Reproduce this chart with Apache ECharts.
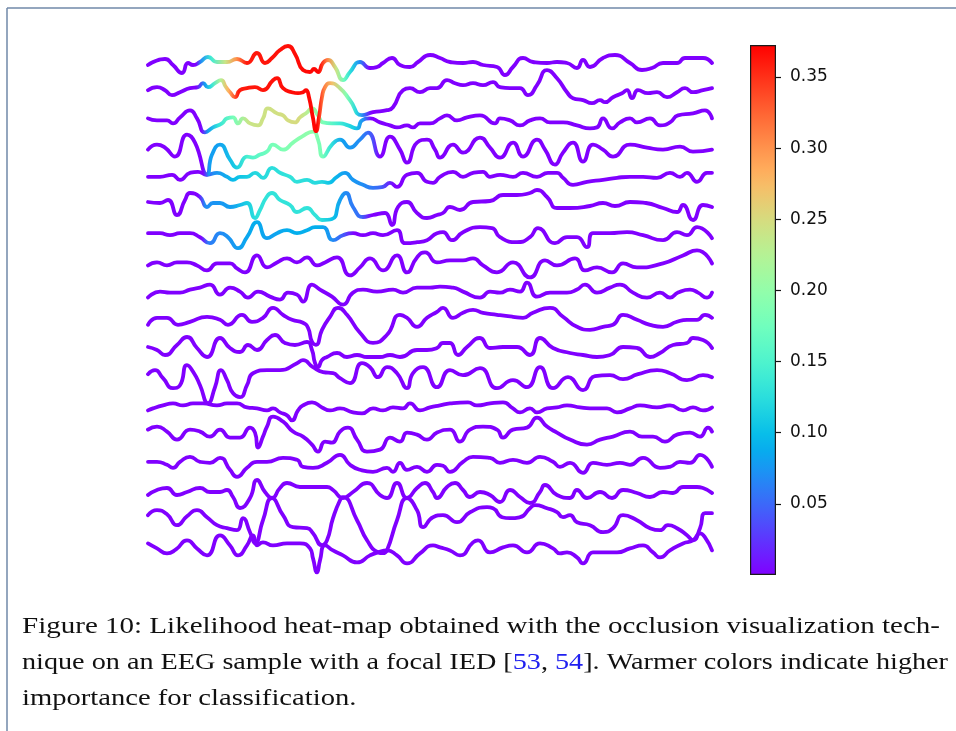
<!DOCTYPE html>
<html><head><meta charset="utf-8">
<script src="https://cdn.jsdelivr.net/npm/echarts@6.0.0/dist/echarts.min.js"></script>
<style>html,body{margin:0;padding:0;background:#fff}#c{width:956px;height:731px}</style>
</head><body><div id="c"></div><script>
// ---- EEG channel traces: [time sample, amplitude] (amplitude positive = up) ----
const CH1 = [[0,0],[17,6],[25,0],[34,-8],[40,2],[45,0],[52,3],[60,8],[69,3],[79,3],[89,6],[99,2],[109,12],[117,2],[124,7],[132,15],[140,19],[147,11],[155,-5],[162,-7],[166,-4],[170,-7],[175,2],[180,5],[187,-2],[195,-15],[202,-7],[212,3],[222,-3],[229,-2],[235,2],[244,7],[252,0],[262,-2],[270,3],[282,10],[292,7],[302,3],[315,2],[325,3],[335,0],[349,-2],[357,-10],[365,-2],[375,7],[385,3],[399,2],[409,3],[419,2],[429,-3],[435,5],[442,-2],[455,7],[467,10],[482,2],[494,-5],[504,-3],[515,2],[529,2],[537,7],[549,7],[555,7],[564,2]];
const CH2 = [[0,3],[9,6],[17,3],[24,-2],[32,1],[42,5],[50,6],[55,10],[60,6],[67,10],[73,13],[78,6],[82,1],[87,-4],[92,3],[99,5],[107,6],[115,3],[125,13],[129,15],[135,5],[144,1],[150,0],[155,1],[158,3],[161,-4],[165,-25],[168,-38],[171,-24],[174,-4],[177,6],[182,10],[192,5],[202,-7],[214,-22],[225,-19],[239,-17],[245,-14],[255,3],[262,5],[272,1],[282,5],[289,5],[299,13],[307,10],[315,8],[325,10],[335,8],[345,11],[352,6],[362,5],[372,5],[380,-2],[389,8],[399,23],[409,15],[419,1],[425,-5],[435,-7],[444,-10],[452,-7],[457,-9],[465,-4],[474,0],[479,3],[484,-5],[490,3],[500,0],[509,1],[519,-4],[529,1],[537,5],[545,1],[555,3],[564,5]];
const CH3 = [[0,3],[9,1],[19,1],[25,-2],[32,4],[42,11],[49,3],[57,-11],[65,-6],[74,-2],[79,3],[85,4],[90,-2],[95,3],[102,-2],[110,-4],[115,3],[120,13],[129,8],[135,6],[140,1],[147,-1],[152,4],[159,9],[164,13],[170,6],[175,-1],[184,-2],[192,-2],[200,-4],[209,-7],[214,1],[222,3],[232,-1],[242,-4],[249,-6],[259,-4],[265,-6],[272,-2],[282,-2],[292,3],[299,6],[309,1],[319,4],[332,6],[347,-2],[352,3],[362,1],[372,-4],[382,1],[392,3],[402,-1],[415,-1],[429,-4],[442,-7],[449,-6],[455,3],[464,-7],[472,-1],[482,3],[489,-1],[502,3],[512,-4],[522,-1],[530,6],[545,8],[557,11],[564,3]];
const CH4 = [[0,0],[9,5],[17,2],[27,-7],[39,15],[47,7],[59,-25],[64,-5],[72,5],[82,-10],[89,-18],[99,-7],[105,-8],[112,-5],[119,-2],[125,5],[135,0],[145,7],[154,13],[165,18],[170,10],[175,-7],[184,5],[192,10],[202,2],[212,10],[220,17],[232,-7],[242,13],[252,0],[259,-13],[269,7],[279,10],[287,0],[292,-8],[305,5],[315,-3],[332,12],[342,2],[352,-8],[365,7],[375,-7],[389,10],[397,0],[407,-15],[415,-3],[425,7],[435,-12],[445,5],[455,0],[465,-7],[482,5],[499,2],[515,0],[532,3],[545,-2],[564,0]];
const CH5 = [[0,1],[12,1],[24,3],[32,-2],[42,5],[50,6],[59,3],[69,5],[79,1],[85,-2],[92,1],[99,1],[107,5],[115,0],[124,10],[132,5],[142,1],[149,-4],[159,-2],[167,-5],[174,-4],[180,-5],[189,1],[197,5],[205,-2],[215,-7],[225,-10],[235,-9],[242,-5],[249,-9],[259,3],[269,5],[279,-4],[285,-5],[292,1],[305,6],[315,1],[325,5],[335,6],[342,1],[352,3],[365,1],[375,5],[389,1],[400,5],[409,5],[415,0],[425,-7],[439,-4],[455,-2],[469,0],[482,1],[495,1],[509,0],[522,5],[532,1],[539,5],[549,-4],[559,5],[564,5]];
const CH6 = [[0,4],[12,3],[20,6],[29,-9],[37,6],[42,13],[52,9],[59,-1],[65,3],[72,3],[82,-1],[92,1],[99,3],[107,-12],[112,-4],[118,8],[124,13],[132,6],[142,1],[149,-6],[159,-2],[167,-9],[174,-14],[184,-13],[192,6],[198,13],[205,-1],[215,-11],[225,-9],[237,-7],[244,-19],[250,-1],[259,4],[269,-7],[279,-12],[289,-9],[295,-7],[302,-1],[312,-4],[325,4],[342,5],[355,11],[369,11],[382,13],[389,16],[399,9],[409,-2],[422,-2],[442,0],[455,3],[467,0],[482,4],[498,3],[515,-2],[529,-6],[535,1],[545,-14],[555,1],[564,-1]];
const CH7 = [[0,1],[12,1],[22,-1],[32,1],[42,1],[52,-3],[62,-9],[72,1],[80,-3],[90,-14],[99,-3],[109,12],[119,-4],[129,1],[139,4],[149,1],[159,4],[167,7],[175,7],[185,-6],[195,-1],[205,1],[215,-1],[225,1],[235,-1],[249,4],[257,-9],[269,-8],[279,-6],[289,1],[295,2],[304,-6],[315,2],[332,7],[344,6],[352,-3],[369,-8],[382,-3],[390,6],[407,-9],[419,-3],[429,-3],[439,-13],[445,1],[462,1],[479,2],[495,-1],[515,-6],[529,2],[539,-1],[549,7],[564,-4]];
const CH8 = [[0,-3],[9,0],[19,-3],[29,0],[39,0],[49,-3],[59,-8],[69,-1],[82,-1],[89,-6],[97,-10],[109,7],[119,-5],[129,0],[139,4],[149,0],[159,5],[169,-3],[177,0],[189,5],[202,-13],[212,-5],[222,4],[235,-8],[249,7],[259,-10],[269,5],[277,10],[289,0],[302,2],[315,2],[325,4],[335,-3],[349,-10],[365,0],[382,-15],[397,2],[409,-3],[427,4],[437,-8],[449,-5],[464,-10],[475,-1],[489,-5],[515,-1],[535,7],[549,12],[564,-1]];
const CH9 = [[0,-7],[12,-1],[22,-2],[32,-2],[42,1],[52,3],[62,6],[72,-4],[82,3],[92,-1],[100,-7],[110,-1],[122,-6],[132,-9],[140,-2],[149,-4],[155,-11],[164,6],[172,1],[184,-6],[195,-14],[205,-2],[215,1],[229,-1],[245,1],[255,-2],[269,3],[282,3],[292,4],[305,3],[315,-1],[332,-7],[342,-1],[352,-2],[362,1],[372,-1],[379,8],[389,-6],[402,-2],[419,-2],[429,1],[437,6],[449,-2],[462,3],[472,6],[485,-2],[499,-7],[512,-2],[522,-7],[530,-2],[542,1],[550,-2],[559,-7],[564,-2]];
const CH10 = [[0,-6],[9,1],[19,1],[30,-6],[42,-3],[59,2],[72,-1],[80,-6],[94,4],[104,-3],[115,1],[125,11],[135,4],[144,-1],[155,-4],[160,-9],[164,-23],[168,-26],[174,-11],[182,2],[190,11],[199,4],[212,-14],[225,-24],[239,-16],[252,4],[259,1],[269,-8],[279,1],[289,7],[295,11],[305,1],[315,6],[325,9],[335,6],[349,4],[365,2],[375,1],[385,6],[402,11],[415,2],[429,-8],[442,-11],[455,-8],[465,-6],[475,4],[489,-1],[502,-6],[515,-8],[529,-3],[539,-1],[549,-1],[557,4],[564,1]];
const CH11 = [[0,0],[9,-3],[17,-8],[29,2],[39,10],[49,-1],[59,-10],[72,9],[82,-1],[92,-5],[100,2],[109,-3],[119,7],[127,12],[137,4],[147,2],[159,5],[164,-3],[167,-16],[170,-20],[174,-13],[179,-10],[189,-6],[199,-10],[209,-8],[219,-10],[232,-10],[242,-8],[252,-10],[269,-3],[279,-3],[289,-1],[295,4],[302,4],[310,-8],[319,0],[332,9],[342,-1],[355,0],[369,0],[382,-8],[392,9],[405,-1],[422,-6],[435,-8],[449,-10],[462,-8],[475,0],[489,-1],[502,-10],[512,-6],[525,2],[539,4],[545,9],[555,7],[564,-1]];
const CH12 = [[0,1],[7,5],[15,-3],[25,-13],[32,-10],[39,10],[46,2],[52,-10],[60,-28],[67,-12],[73,5],[79,-5],[85,-18],[92,-22],[99,-10],[105,2],[119,5],[132,5],[149,12],[155,15],[165,8],[175,3],[185,2],[192,-3],[202,-8],[214,12],[222,8],[230,-2],[239,8],[249,2],[259,-13],[265,2],[275,8],[289,-12],[302,5],[315,0],[332,7],[349,-13],[365,-5],[379,-12],[392,8],[405,-13],[420,-2],[435,-15],[447,-1],[462,0],[475,-4],[490,1],[509,5],[522,2],[539,-5],[555,0],[564,-2]];
const CH13 = [[0,-7],[5,-5],[15,-2],[25,0],[35,-2],[45,0],[55,0],[69,-2],[79,0],[89,0],[99,-4],[109,-5],[119,-7],[125,-5],[132,-9],[139,-12],[144,-17],[150,-7],[155,-2],[164,1],[174,-4],[182,-7],[192,-5],[205,-9],[214,-10],[225,-5],[235,-7],[245,-4],[255,-5],[262,0],[272,-7],[282,-4],[292,-2],[302,0],[320,1],[329,-2],[342,0],[355,1],[365,-5],[372,-9],[382,-5],[389,-9],[399,-5],[409,-4],[419,-2],[432,-4],[442,-5],[459,-5],[469,-9],[482,-5],[492,-2],[509,-4],[522,-2],[535,-7],[545,-4],[555,-7],[564,-4]];
const CH14 = [[0,2],[9,5],[19,0],[29,-8],[42,2],[52,0],[62,-5],[72,2],[82,-6],[92,-6],[102,4],[107,-1],[110,-16],[115,-5],[119,5],[125,15],[135,10],[145,0],[155,-5],[164,-13],[170,-20],[177,-10],[184,-11],[192,0],[200,4],[209,-8],[219,-20],[232,-18],[242,-6],[252,-10],[259,-1],[269,-3],[279,-8],[289,-1],[302,2],[312,-10],[322,2],[335,5],[349,2],[355,-6],[365,2],[379,4],[389,14],[399,5],[409,-1],[422,-8],[439,-13],[452,-8],[465,-5],[482,0],[494,-5],[505,-5],[517,-10],[529,-3],[542,-1],[552,-5],[560,4],[564,0]];
const CH15 = [[0,-2],[9,-2],[19,-5],[25,-8],[32,-2],[42,3],[52,-2],[62,-3],[72,2],[82,-10],[89,-17],[99,-8],[109,-2],[119,-2],[135,2],[149,0],[155,-7],[165,-8],[179,-3],[192,5],[202,-5],[212,-10],[225,-12],[239,-8],[245,-12],[252,-3],[259,-10],[269,-7],[279,-12],[289,-5],[295,-6],[302,-12],[315,-2],[325,3],[342,2],[352,-3],[365,0],[379,-3],[392,3],[405,-2],[412,-7],[422,-3],[435,-13],[445,-3],[459,-5],[472,-3],[482,-5],[495,2],[512,-8],[522,-7],[532,-2],[542,-3],[552,5],[564,-7]];
const CH16 = [[0,-7],[9,-2],[19,0],[29,-7],[39,-4],[52,0],[62,-4],[72,-4],[79,-2],[85,-9],[92,-20],[102,-10],[109,8],[117,-4],[124,-10],[132,0],[139,5],[152,1],[165,1],[179,1],[185,-2],[195,-10],[205,-4],[219,5],[232,-7],[239,-10],[249,5],[259,-10],[269,0],[277,5],[285,-4],[289,-10],[299,1],[307,5],[315,-2],[322,-9],[332,-4],[342,-7],[352,-14],[362,-2],[372,-9],[382,-15],[392,-4],[397,3],[409,-7],[422,-10],[429,-2],[439,-10],[452,-4],[464,-10],[475,-2],[489,-5],[502,-9],[515,-4],[525,-5],[535,1],[549,1],[555,0],[564,-5]];
const CH17 = [[0,1],[9,6],[19,2],[29,-9],[39,0],[49,6],[59,-1],[69,-9],[79,-12],[89,-14],[95,-2],[102,-16],[107,-27],[115,-4],[124,18],[135,1],[145,-11],[159,-12],[165,-17],[174,-29],[179,-24],[185,-2],[192,16],[195,19],[209,-4],[219,-24],[230,-36],[235,-37],[239,-34],[249,-4],[259,18],[269,6],[275,-11],[285,-1],[295,1],[309,-6],[322,4],[339,9],[345,8],[354,-1],[362,-2],[372,-1],[382,8],[387,11],[399,8],[409,4],[415,-1],[422,1],[429,-6],[442,-9],[455,-16],[465,-12],[475,1],[489,-4],[502,-12],[512,-14],[520,-9],[529,-12],[539,-19],[545,-24],[552,-12],[557,3],[564,3]];
const CH18 = [[0,1],[9,-4],[19,-9],[28,-5],[39,4],[49,-4],[59,-11],[72,9],[82,-1],[90,-11],[99,-1],[105,9],[109,-1],[115,2],[125,-1],[139,1],[152,1],[162,-4],[165,-14],[169,-28],[172,-16],[177,-1],[185,-6],[195,-11],[209,-18],[222,-11],[230,-8],[239,-6],[249,-11],[259,-19],[272,-9],[285,-1],[292,-3],[302,-6],[312,-11],[325,2],[330,4],[342,-8],[355,-3],[365,-1],[379,-8],[392,1],[405,-4],[412,-9],[419,-8],[429,-13],[435,-19],[445,-8],[459,-8],[469,-8],[482,-4],[495,-1],[505,-8],[512,-13],[522,-6],[535,1],[545,4],[552,11],[557,7],[564,-6]];

// ---- occlusion importance knots per channel: [time sample, likelihood] ----
const IMP1 = [[50,0],[55,0.07],[65,0.14],[79,0.24],[90,0.30],[100,0.36],[172,0.37],[180,0.31],[189,0.24],[197,0.17],[204,0.12],[212,0.07],[222,0]];
const IMP2 = [[50,0],[59,0.08],[65,0.13],[74,0.22],[82,0.28],[92,0.36],[170,0.37],[177,0.31],[185,0.27],[199,0.19],[209,0.12],[216,0.06],[224,0]];
const IMP3 = [[55,0],[62,0.08],[72,0.13],[87,0.18],[102,0.24],[152,0.25],[162,0.22],[177,0.18],[192,0.14],[207,0.11],[216,0.07],[224,0]];
const IMP4 = [[57,0],[63,0.08],[72,0.08],[89,0.11],[102,0.15],[125,0.18],[145,0.19],[165,0.20],[175,0.18],[184,0.13],[195,0.08],[212,0.07],[225,0.04],[232,0]];
const IMP5 = [[55,0],[67,0.07],[88,0.10],[109,0.12],[142,0.13],[174,0.12],[185,0.10],[197,0.08],[215,0.07],[232,0.05],[247,0]];
const IMP6 = [[52,0],[59,0.07],[85,0.08],[99,0.11],[112,0.13],[172,0.13],[187,0.10],[197,0.07],[214,0.05],[224,0]];
const IMP7 = [[55,0],[62,0.06],[92,0.08],[109,0.09],[122,0.08],[142,0.09],[172,0.09],[185,0.07],[197,0.04],[207,0]];

const colorbarRange = [0, 0.3725];
const colorbarTicks = [0.05, 0.10, 0.15, 0.20, 0.25, 0.30, 0.35];
const timeRange = [0, 564];
const channelSpacing = 28.2;
const topOffset = 515;

const channels = [CH1,CH2,CH3,CH4,CH5,CH6,CH7,CH8,CH9,CH10,CH11,CH12,CH13,CH14,CH15,CH16,CH17,CH18];
const importances = [IMP1,IMP2,IMP3,IMP4,IMP5,IMP6,IMP7];

// matplotlib 'rainbow' colormap
function rainbow(x){
  x = Math.max(0, Math.min(1, x));
  const r = Math.min(1, Math.abs(2*x - 0.5));
  const g = Math.max(0, Math.sin(Math.PI*x));
  const b = Math.max(0, Math.cos(Math.PI*x/2));
  return 'rgb(' + Math.round(r*255) + ',' + Math.round(g*255) + ',' + Math.round(b*255) + ')';
}
const cspan = colorbarRange[1] - colorbarRange[0];
function lineColor(knots){
  if (!knots) return rainbow(0);
  return new echarts.graphic.LinearGradient(0, 0, 1, 0,
    knots.map(([t, v]) => ({ offset: (t - timeRange[0]) / (timeRange[1] - timeRange[0]), color: rainbow((v - colorbarRange[0]) / cspan) })));
}

const series = [];
for (let k = channels.length - 1; k >= 0; k--) {
  const off = topOffset - k * channelSpacing;
  series.push({
    type: 'line', xAxisIndex: 0, yAxisIndex: 0,
    data: channels[k].map(([t, a]) => [t, off + a]),
    symbol: 'none', showSymbol: false, smooth: 0.55, clip: false, silent: true,
    lineStyle: { width: 3.8, color: lineColor(importances[k]), cap: 'round', join: 'round' }
  });
}
const cbStops = [];
for (let i = 0; i <= 30; i++) cbStops.push({ offset: i/30, color: rainbow(i/30) });
series.push({
  type: 'bar', xAxisIndex: 1, yAxisIndex: 1, data: [colorbarRange[1]], barWidth: '100%', silent: true,
  itemStyle: { color: new echarts.graphic.LinearGradient(0, 1, 0, 0, cbStops), borderColor: '#1a1a1a', borderWidth: 1.2 }
});

// caption
const capFont = '24px "Liberation Serif"';
const cap1 = 'Figure 10: Likelihood heat-map obtained with the occlusion visualization tech-';
const cap2 = 'nique on an EEG sample with a focal IED [53, 54]. Warmer colors indicate higher';
const cap2rich = 'nique on an EEG sample with a focal IED [{c|53}, {c|54}]. Warmer colors indicate higher';
const cap3 = 'importance for classification.';
const mctx = document.createElement('canvas').getContext('2d');
mctx.font = capFont;
const s1 = 918 / mctx.measureText(cap1).width;
const s2 = 926 / mctx.measureText(cap2).width;
const s3 = (s1 + s2) / 2;

const chart = echarts.init(document.getElementById('c'), null, { renderer: 'canvas' });
chart.setOption({
  animation: false,
  backgroundColor: '#ffffff',
  grid: [
    { left: 148, right: 244, top: 40, bottom: 151 },
    { left: 750, width: 26, top: 45, height: 530 }
  ],
  xAxis: [
    { type: 'value', gridIndex: 0, min: timeRange[0], max: timeRange[1], show: false },
    { type: 'category', gridIndex: 1, data: ['cb'], show: false }
  ],
  yAxis: [
    { type: 'value', gridIndex: 0, min: 0, max: 540, show: false },
    { type: 'value', gridIndex: 1, min: colorbarRange[0], max: colorbarRange[1], position: 'right',
      axisLine: { show: false }, splitLine: { show: false },
      axisTick: { show: true, inside: false, length: 5, lineStyle: { color: '#111', width: 1.2 }, customValues: colorbarTicks },
      axisLabel: { show: true, margin: 14, fontSize: 17, color: '#111', fontFamily: 'DejaVu Sans',
        customValues: colorbarTicks, formatter: v => v.toFixed(2) } }
  ],
  series: series,
  graphic: [
    { type: 'line', shape: { x1: 7, y1: 8, x2: 956, y2: 8 }, style: { stroke: '#7088a8', lineWidth: 1.5 }, silent: true },
    { type: 'line', shape: { x1: 7, y1: 8, x2: 7, y2: 731 }, style: { stroke: '#7088a8', lineWidth: 1.5 }, silent: true },
    { type: 'text', x: 22, y: 627, scaleX: s1, silent: true,
      style: { text: cap1, font: capFont, fill: '#111', textAlign: 'left', textVerticalAlign: 'middle' } },
    { type: 'text', x: 22, y: 663, scaleX: s2, silent: true,
      style: { text: cap2rich, font: capFont, fill: '#111', textAlign: 'left', textVerticalAlign: 'middle',
        rich: { c: { fill: '#2020f0', font: capFont } } } },
    { type: 'text', x: 22, y: 699, scaleX: s3, silent: true,
      style: { text: cap3, font: capFont, fill: '#111', textAlign: 'left', textVerticalAlign: 'middle' } }
  ]
});
</script></body></html>
